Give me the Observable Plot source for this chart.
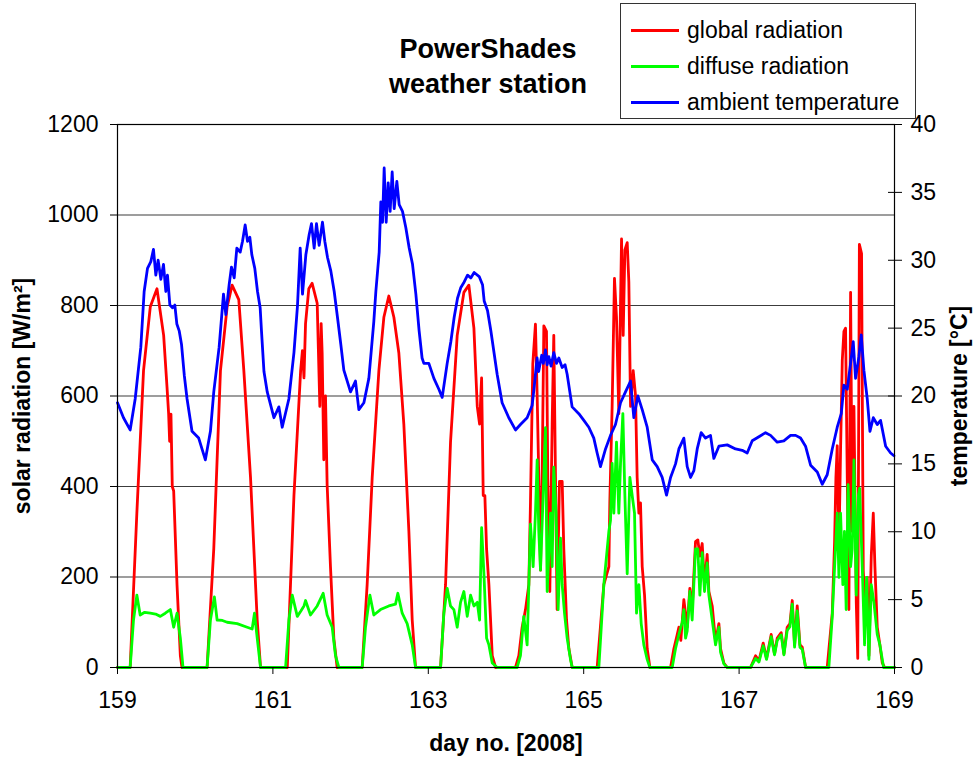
<!DOCTYPE html>
<html>
<head>
<meta charset="utf-8">
<script src="https://cdn.jsdelivr.net/npm/d3@7"></script>
<script src="https://cdn.jsdelivr.net/npm/@observablehq/plot@0.6"></script>
<style>
  body { margin: 0; background: #fff; }
  #wrap { position: relative; width: 976px; height: 758px; font-family: "Liberation Sans", Arial, sans-serif; color: #000; }
  #title { position: absolute; left: 338px; width: 300px; top: 32px; text-align: center; font-weight: bold; font-size: 27px; line-height: 35px; }
  #legend { position: absolute; left: 620px; top: 3px; width: 296px; height: 116px; border: 1px solid #333; box-sizing: border-box; background: #fff; }
  .lg-item { position: absolute; left: 0; height: 0; }
  .lg-line { position: absolute; left: 10px; width: 48px; height: 3px; top: -1.5px; }
  .lg-text { position: absolute; left: 66px; top: -14px; font-size: 23px; line-height: 28px; white-space: nowrap; }
  #chart { position: absolute; left: 0; top: 0; }
</style>
</head>
<body>
<div id="wrap">
  <div id="chart"></div>
  <div id="title">PowerShades<br>weather station</div>
  <div id="legend"></div>
</div>
<script>
// ---------- data ----------
const seriesNames = ["global radiation", "diffuse radiation", "ambient temperature"];
const seriesColors = ["#ff0000", "#00ff00", "#0000ff"];

const dayTicks = [159, 161, 163, 165, 167, 169];
const radiationTicks = [0, 200, 400, 600, 800, 1000, 1200];
const temperatureTicks = [0, 5, 10, 15, 20, 25, 30, 35, 40];

const globalDays = [159.000,159.163,159.249,159.335,159.422,159.508,159.594,159.637,159.658,159.671,159.688,159.705,159.723,159.766,159.809,159.830,
160.153,160.239,160.325,160.411,160.475,160.561,160.626,160.712,160.798,160.841,
161.185,161.271,161.357,161.380,161.400,161.420,161.462,161.505,161.570,161.604,161.621,161.634,161.655,161.677,161.698,161.741,161.784,161.827,
162.149,162.213,162.278,162.364,162.428,162.492,162.557,162.621,162.685,162.750,162.793,162.836,
163.158,163.222,163.286,163.372,163.458,163.522,163.587,163.630,163.660,163.686,163.707,163.728,163.750,163.780,163.823,163.866,
164.122,164.165,164.208,164.251,164.294,164.315,164.345,164.379,164.401,164.422,164.444,164.465,164.487,164.521,164.538,164.564,164.594,164.615,164.637,164.658,164.688,164.723,164.744,164.779,164.809,164.852,
165.173,165.259,165.324,165.336,165.366,165.396,165.422,165.452,165.487,165.508,165.530,165.560,165.581,165.603,165.637,165.667,165.688,165.710,165.731,165.753,165.783,165.817,165.852,
166.118,166.161,166.200,166.225,166.250,166.289,166.332,166.366,166.396,166.439,166.469,166.495,166.525,166.555,166.589,166.611,166.654,166.697,166.740,166.761,166.804,166.847,
167.147,167.212,167.255,167.310,167.353,167.413,167.456,167.491,167.542,167.577,167.619,167.654,167.684,167.714,167.748,167.783,167.813,167.856,
168.134,168.199,168.229,168.246,168.263,168.285,168.306,168.328,168.349,168.370,168.392,168.413,168.435,168.456,168.478,168.508,168.527,168.548,168.576,168.598,168.628,168.649,168.671,168.701,168.727,168.748,168.778,168.812,168.843,168.873,169.000];
const globalValues = [0,0,341,656,797,837,734,620,561,500,560,400,390,183,26,0,
0,262,656,797,845,813,656,420,105,0,
0,380,656,700,640,760,837,849,805,577,760,695,459,600,404,223,65,0,
0,183,420,656,774,821,774,695,538,301,105,0,
0,183,498,734,829,845,750,577,538,640,380,380,262,183,26,0,
0,26,89,128,183,364,671,759,601,420,215,420,755,743,420,168,538,734,420,128,411,411,262,105,42,0,
0,183,223,364,577,860,774,561,947,734,923,939,852,577,656,601,420,341,364,223,160,42,0,
0,42,70,89,60,150,89,175,128,278,282,246,274,183,250,168,136,57,97,42,10,0,
0,26,15,54,20,73,30,65,77,30,89,97,148,50,136,50,45,0,
0,120,278,420,490,262,483,679,743,750,420,128,829,301,577,144,20,935,915,215,105,199,26,246,341,223,89,50,10,0,0];

const diffuseDays = [159.000,159.163,159.206,159.249,159.292,159.350,159.422,159.490,159.551,159.615,159.680,159.723,159.766,159.809,159.843,
160.153,160.196,160.247,160.282,160.350,160.411,160.540,160.669,160.733,160.763,160.798,160.841,
161.163,161.206,161.249,161.314,161.360,161.400,161.420,161.484,161.570,161.647,161.698,161.763,161.806,161.849,
162.149,162.192,162.248,162.299,162.385,162.492,162.578,162.608,162.664,162.728,162.793,162.836,
163.158,163.200,163.243,163.286,163.329,163.372,163.415,163.458,163.501,163.544,163.587,163.630,163.660,163.686,163.716,163.750,163.780,163.823,163.887,
164.143,164.186,164.229,164.272,164.294,164.315,164.349,164.379,164.401,164.422,164.444,164.478,164.508,164.530,164.573,164.594,164.615,164.645,164.671,164.701,164.723,164.753,164.787,164.830,164.852,
165.195,165.259,165.324,165.345,165.366,165.388,165.422,165.452,165.474,165.504,165.530,165.560,165.594,165.624,165.654,165.680,165.710,165.740,165.774,165.817,165.852,
166.139,166.182,166.225,166.268,166.289,166.311,166.332,166.366,166.396,166.439,166.469,166.495,166.525,166.555,166.589,166.611,166.654,166.697,166.740,166.761,166.804,166.847,
167.147,167.212,167.255,167.310,167.353,167.413,167.456,167.491,167.542,167.577,167.619,167.654,167.684,167.714,167.748,167.783,167.813,167.856,
168.155,168.199,168.229,168.263,168.285,168.306,168.335,168.356,168.378,168.403,168.435,168.456,168.478,168.508,168.535,168.551,168.585,168.615,168.641,168.671,168.701,168.735,168.778,168.812,168.860,169.000];
const diffuseValues = [0,0,105,160,116,122,120,118,113,120,128,89,120,65,0,
0,105,156,105,104,100,97,89,85,120,65,0,
0,105,160,113,125,136,148,116,136,164,116,89,26,0,
0,89,160,116,128,136,140,164,120,97,50,0,
0,120,175,136,128,89,144,168,113,160,136,144,105,309,207,65,50,10,0,
0,26,113,50,183,317,223,341,459,301,215,380,530,168,341,223,443,341,128,286,183,120,65,18,0,
0,183,301,325,451,341,498,341,451,561,380,207,420,380,341,120,183,97,50,18,0,
0,42,73,100,128,65,81,168,105,262,262,160,254,168,231,160,105,50,89,34,8,0,
0,20,12,48,18,68,28,60,72,28,82,90,140,45,125,45,40,0,
0,113,223,341,199,341,183,301,128,404,223,262,459,160,380,396,223,50,199,18,183,144,73,50,0,0];

const temperatureDays = [
159.000,159.077,159.163,159.228,159.300,159.343,159.386,159.429,159.463,159.493,159.523,159.558,159.592,159.622,159.643,159.674,159.708,159.738,159.764,159.794,159.824,159.860,159.895,159.959,
160.045,160.131,160.196,160.239,160.308,160.364,160.394,160.437,160.467,160.502,160.536,160.579,160.609,160.643,160.673,160.703,160.729,160.767,160.802,160.836,160.853,160.885,160.927,
161.013,161.077,161.120,161.206,161.271,161.317,161.351,161.381,161.424,161.467,161.497,161.531,161.561,161.595,161.638,161.668,161.703,161.746,161.789,161.831,161.874,161.913,161.999,
162.063,162.106,162.171,162.235,162.299,162.325,162.368,162.389,162.411,162.432,162.458,162.484,162.509,162.535,162.561,162.595,162.625,162.668,162.711,162.754,162.797,162.840,162.882,162.920,162.943,
163.007,163.072,163.136,163.179,163.243,163.290,163.333,163.376,163.419,163.462,163.505,163.547,163.590,163.655,163.698,163.719,163.762,163.805,163.886,163.950,
164.036,164.122,164.186,164.272,164.336,164.360,164.400,164.420,164.460,164.480,164.508,164.530,164.551,164.580,164.615,164.650,164.680,164.723,164.760,164.787,164.851,164.937,
165.002,165.066,165.130,165.173,165.216,165.281,165.345,165.409,165.474,165.538,165.603,165.645,165.697,165.753,165.817,165.882,165.946,
166.010,166.066,166.118,166.182,166.225,166.289,166.332,166.375,166.418,166.461,166.512,166.568,166.632,166.675,166.740,166.847,166.954,
167.040,167.104,167.169,167.255,167.340,167.405,167.491,167.576,167.662,167.727,167.791,167.855,167.920,
168.006,168.070,168.134,168.199,168.263,168.315,168.349,168.392,168.435,168.469,168.499,168.542,168.572,168.606,168.649,168.684,168.727,168.778,168.821,168.886,168.950,168.993];
const temperatureValues = [
19.5,18.4,17.5,19.8,23.6,27.7,29.4,29.9,30.8,28.9,30.0,28.6,29.7,27.7,28.9,26.7,26.5,26.7,25.3,24.8,23.8,21.5,19.8,17.4,
16.9,15.3,17.4,20.3,23.6,27.5,26.0,28.2,29.5,28.7,30.9,30.6,31.4,32.6,31.4,31.7,30.4,29.4,27.7,26.5,24.8,21.8,20.3,
18.4,19.2,17.7,19.8,23.2,26.7,30.9,27.5,30.4,31.9,32.7,30.9,32.7,31.1,32.8,31.4,30.2,29.2,27.7,25.8,23.8,21.9,20.3,
21.1,19.0,19.5,21.3,25.5,27.7,30.6,34.3,32.8,36.8,32.8,35.7,33.6,36.5,33.8,35.8,34.1,33.6,32.4,30.9,29.7,27.5,24.8,22.8,22.4,
22.4,21.3,20.5,19.9,22.4,24.0,25.8,27.2,28.0,28.4,28.9,28.7,29.1,28.8,28.2,27.0,26.3,24.8,21.6,19.5,
18.4,17.5,17.9,18.4,19.3,20.5,22.8,21.8,23.0,22.4,23.4,22.3,22.9,22.2,23.2,22.4,22.8,22.1,22.3,21.6,19.2,18.7,
18.2,17.7,16.9,15.8,14.8,16.1,17.1,17.9,19.5,20.3,21.1,18.4,20.0,19.0,17.7,15.3,14.8,
14.0,12.7,14.0,15.0,16.1,16.9,14.8,14.0,14.5,16.1,17.3,16.9,17.1,15.4,16.3,16.4,16.1,
16.0,15.8,16.7,17.0,17.3,17.1,16.6,16.7,17.1,17.1,16.9,16.3,14.9,
14.4,13.5,14.2,16.1,17.7,18.7,20.8,20.5,22.4,24.0,21.3,22.9,24.5,21.9,19.8,17.4,18.4,17.9,18.2,16.3,15.8,15.6];

const xTitle = "day no. [2008]";
const yLeftTitle = "solar radiation [W/m²]";
const yRightTitle = "temperature [°C]";

// ---------- build tables ----------
const tempFactor = radiationTicks[radiationTicks.length - 1] / temperatureTicks[temperatureTicks.length - 1]; // 1200 / 40
const globalData = globalDays.map((d, i) => ({day: d, value: globalValues[i]}));
const diffuseData = diffuseDays.map((d, i) => ({day: d, value: diffuseValues[i]}));
const temperatureData = temperatureDays.map((d, i) => ({day: d, value: temperatureValues[i]}));

const font = '"Liberation Sans", Arial, sans-serif';
const lineW = 2.8;

const chart = Plot.plot({
  width: 976,
  height: 758,
  marginTop: 124,
  marginBottom: 91,
  marginLeft: 117,
  marginRight: 82,
  style: {fontFamily: font, fontSize: "23px", color: "#000", background: "transparent", overflow: "visible"},
  x: {domain: [dayTicks[0], dayTicks[dayTicks.length - 1]]},
  y: {domain: [radiationTicks[0], radiationTicks[radiationTicks.length - 1]]},
  marks: [
    Plot.ruleY(radiationTicks.slice(1, -1), {stroke: "#3c3c3c", strokeWidth: 1.2}),
    Plot.line(globalData, {x: "day", y: "value", stroke: seriesColors[0], strokeWidth: lineW, strokeLinejoin: "round"}),
    Plot.line(diffuseData, {x: "day", y: "value", stroke: seriesColors[1], strokeWidth: lineW, strokeLinejoin: "round"}),
    Plot.line(temperatureData, {x: "day", y: d => d.value * tempFactor, stroke: seriesColors[2], strokeWidth: lineW, strokeLinejoin: "round"}),
    Plot.frame({stroke: "#000", strokeWidth: 1.2}),
    Plot.axisY({anchor: "left", ticks: radiationTicks, tickSize: 7, tickPadding: 12, tickFormat: d => String(d), label: null}),
    Plot.axisY({anchor: "right", ticks: temperatureTicks.map(t => t * tempFactor), tickSize: 14, dx: -7, tickFormat: () => "", label: null}),
    Plot.axisY({anchor: "right", ticks: temperatureTicks.map(t => t * tempFactor), tickSize: 0, tickPadding: 16, tickFormat: d => String(d / tempFactor), label: null}),
    Plot.axisX({anchor: "bottom", ticks: dayTicks, tickSize: 7, tickPadding: 17, tickFormat: d => String(d), label: null}),
    Plot.text([xTitle], {text: d => d, frameAnchor: "bottom", dy: 76, textAnchor: "middle", lineAnchor: "middle", fontWeight: "bold", fontSize: 23}),
    Plot.text([yLeftTitle], {text: d => d, frameAnchor: "left", dx: -95, rotate: -90, textAnchor: "middle", lineAnchor: "middle", fontWeight: "bold", fontSize: 23}),
    Plot.text([yRightTitle], {text: d => d, frameAnchor: "right", dx: 65, rotate: -90, textAnchor: "middle", lineAnchor: "middle", fontWeight: "bold", fontSize: 23})
  ]
});
document.getElementById("chart").appendChild(chart);

// ---------- legend ----------
const legend = document.getElementById("legend");
const rowTops = [26, 62, 98];
seriesNames.forEach((name, i) => {
  const item = document.createElement("div");
  item.className = "lg-item";
  item.style.top = rowTops[i] + "px";
  const line = document.createElement("div");
  line.className = "lg-line";
  line.style.background = seriesColors[i];
  const text = document.createElement("div");
  text.className = "lg-text";
  text.textContent = name;
  item.appendChild(line);
  item.appendChild(text);
  legend.appendChild(item);
});
</script>
</body>
</html>
